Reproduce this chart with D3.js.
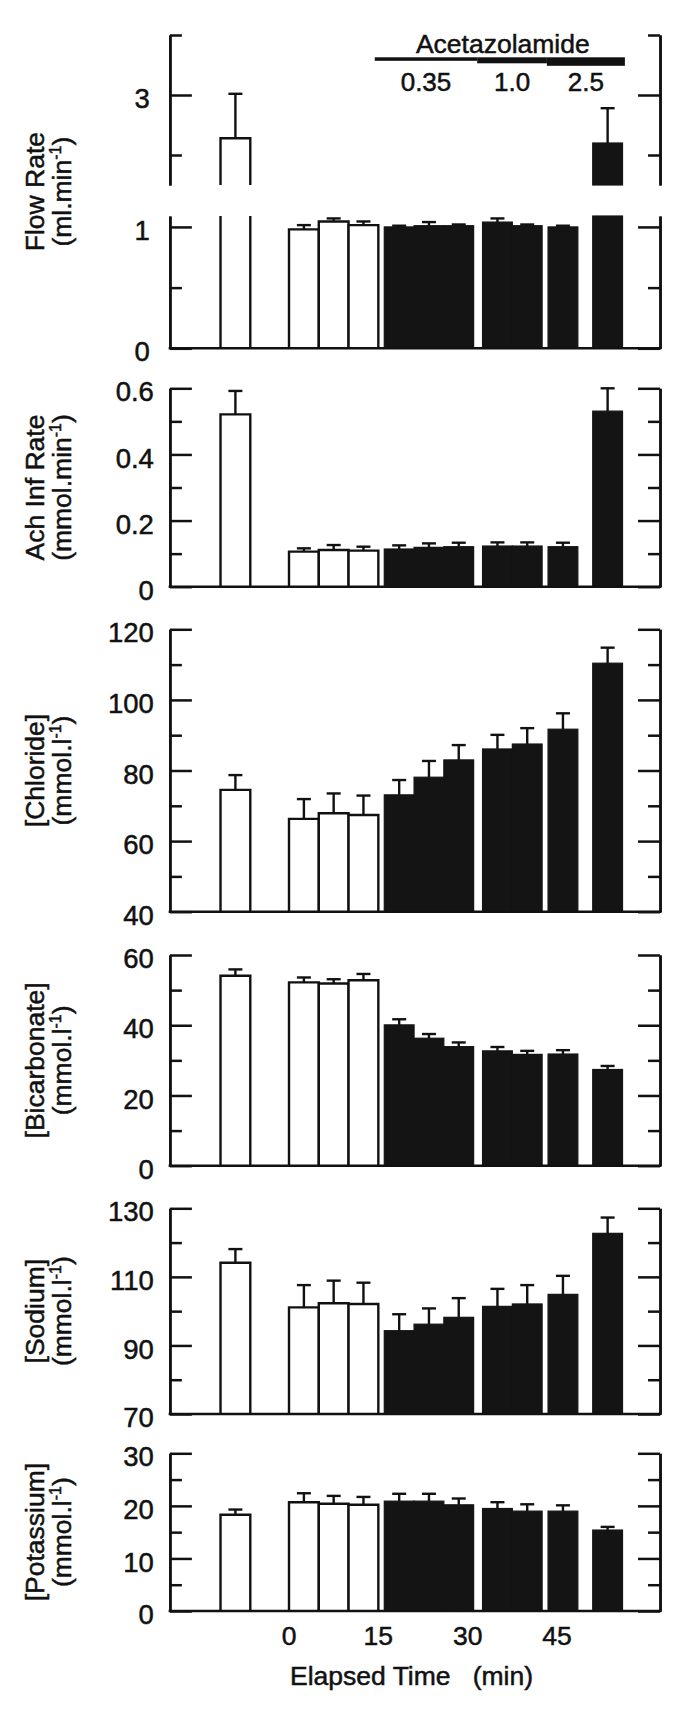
<!DOCTYPE html>
<html><head><meta charset="utf-8">
<script src="https://cdn.jsdelivr.net/npm/d3@7"></script>
<style>
html,body{margin:0;padding:0;background:#fff;}
svg{display:block;}
</style></head>
<body><div id="chart"></div>
<script>
// ---------------- DATA ----------------
// sample time (minutes, bar centre) of each collection period
const timeMin = [-9, 2.5, 7.5, 12.5, 18.5, 23.5, 28.5, 35, 40, 46, 53.5];
const period  = ["control","control","control","control","acz","acz","acz","acz","acz","acz","acz"];

const flowRate    = [2.64, 0.98, 1.045, 1.015, 1.0, 1.01, 1.01, 1.04, 1.01, 1.0, 2.6];
const flowRateErr = [0.37, 0.035, 0.025, 0.03, 0.01, 0.03, 0.01, 0.03, 0.01, 0.01, 0.29];

const achRate    = [0.521, 0.106, 0.111, 0.109, 0.114, 0.119, 0.121, 0.123, 0.123, 0.121, 0.531];
const achRateErr = [0.071, 0.010, 0.015, 0.012, 0.011, 0.012, 0.012, 0.011, 0.011, 0.012, 0.069];

const chloride    = [74.5, 66.3, 67.9, 67.4, 73.1, 78.1, 83.0, 86.1, 87.5, 91.7, 110.4];
const chlorideErr = [4.2, 5.6, 5.6, 5.5, 4.2, 4.6, 4.2, 4.0, 4.5, 4.5, 4.4];

const bicarbonate    = [54.1, 52.2, 51.9, 52.8, 40.1, 36.3, 33.9, 32.7, 31.7, 31.8, 27.4];
const bicarbonateErr = [1.8, 1.4, 1.2, 1.8, 1.6, 1.2, 1.2, 1.1, 1.0, 1.1, 1.0];

const sodium    = [114.1, 101.1, 102.3, 102.1, 94.3, 96.2, 98.2, 101.4, 102.1, 104.9, 122.7];
const sodiumErr = [4.0, 6.5, 6.6, 6.2, 4.8, 4.6, 5.6, 5.1, 5.5, 5.4, 4.6];

const potassium    = [18.3, 20.7, 20.4, 20.2, 20.9, 20.9, 20.2, 19.5, 19.0, 19.0, 15.4];
const potassiumErr = [1.0, 1.7, 1.5, 1.5, 1.4, 1.4, 1.2, 1.2, 1.3, 1.1, 0.6];

const xTickValues = [0, 15, 30, 45];
const doseLabels = ["0.35", "1.0", "2.5"];
const doseStart  = [14.4, 31.6, 43.3];
const doseEnd    = [31.6, 43.3, 56.4];

// ---------------- LAYOUT / STYLE ----------------
const W = 685, H = 1710;
const FONT = '"Liberation Sans", Arial, Helvetica, sans-serif';
const INK = "#111";
const BLACKBAR = "#141414";
const TXT_STROKE = 0.5;
const doseThick = [3.5, 6, 8.5];

const x = d3.scaleLinear().domain([0, 45]).range([289, 557]);
const xLo = -20, xHi = 62.3;
const left = x(xLo), right = x(xHi);
const half = 2.5; // half a 5-min collection period

const svg = d3.select("#chart").append("svg")
  .attr("width", W).attr("height", H)
  .attr("viewBox", `0 0 ${W} ${H}`);
svg.append("rect").attr("width", W).attr("height", H).attr("fill", "#fff");

function ink(sel) {
  return sel.attr("fill", INK).attr("stroke", INK).attr("stroke-width", TXT_STROKE);
}

const f1 = d3.format(".1f");
const panels = [
  { title: ["Flow Rate", ["(ml.min", "-1", ")"]], values: flowRate, errs: flowRateErr,
    segs: [{ domain: [0, 1.09], range: [348.3, 216] }, { domain: [2.25, 3.5], range: [185, 35] }],
    majors: [0, 1, 3], minors: [0.5, 2.5, 3.5], fmt: d => String(d), pad: 20 },
  { title: ["Ach Inf Rate", ["(mmol.min", "-1", ")"]], values: achRate, errs: achRateErr,
    segs: [{ domain: [0, 0.6], range: [586.7, 388.3] }],
    majors: [0, 0.2, 0.4, 0.6], minors: [0.1, 0.3, 0.5], fmt: d => d === 0 ? "0" : f1(d), pad: 16 },
  { title: ["[Chloride]", ["(mmol.l", "-1", ")"]], values: chloride, errs: chlorideErr,
    segs: [{ domain: [40, 120], range: [911.7, 629.3] }],
    majors: [40, 60, 80, 100, 120], minors: [50, 70, 90, 110], fmt: d => String(d), pad: 16 },
  { title: ["[Bicarbonate]", ["(mmol.l", "-1", ")"]], values: bicarbonate, errs: bicarbonateErr,
    segs: [{ domain: [0, 60], range: [1165.7, 955] }],
    majors: [0, 20, 40, 60], minors: [10, 30, 50], fmt: d => String(d), pad: 16 },
  { title: ["[Sodium]", ["(mmol.l", "-1", ")"]], values: sodium, errs: sodiumErr,
    segs: [{ domain: [70, 130], range: [1414, 1208.3] }],
    majors: [70, 90, 110, 130], minors: [80, 100, 120], fmt: d => String(d), pad: 16 },
  { title: ["[Potassium]", ["(mmol.l", "-1", ")"]], values: potassium, errs: potassiumErr,
    segs: [{ domain: [0, 30], range: [1611, 1453.3] }],
    majors: [0, 10, 20, 30], minors: [5, 15, 25], fmt: d => String(d), pad: 16 }
];

function styleAxis(g) {
  g.attr("font-family", FONT).attr("font-size", 27.5);
  g.selectAll("path.domain").attr("stroke", INK).attr("stroke-width", 2.5);
  g.selectAll(".tick line").attr("stroke", INK).attr("stroke-width", 2.5);
  ink(g.selectAll(".tick text")).attr("dy", "0.46em");
}

panels.forEach(p => {
  const g = svg.append("g");
  const scales = p.segs.map(s => ({ s, y: d3.scaleLinear().domain(s.domain).range(s.range) }));

  // bars
  p.values.forEach((v, i) => {
    const t = timeMin[i];
    const xl = x(t - half), xr = x(t + half);
    scales.forEach(({ s, y }) => {
      const lo = s.domain[0], hi = s.domain[1];
      if (v <= lo) return;
      const clipped = v > hi;
      const yt = y(Math.min(v, hi)), yb = y(lo);
      if (period[i] === "acz") {
        g.append("rect").attr("x", xl).attr("y", yt).attr("width", xr - xl).attr("height", yb - yt)
          .attr("fill", BLACKBAR).attr("stroke", BLACKBAR).attr("stroke-width", 1.2);
      } else {
        g.append("rect").attr("x", xl).attr("y", yt).attr("width", xr - xl).attr("height", yb - yt)
          .attr("fill", "#fff");
        const d = `M${xl},${yb}V${yt}` + (clipped ? `M${xr},${yt}` : `H${xr}`) + `V${yb}`;
        g.append("path").attr("d", d).attr("fill", "none").attr("stroke", INK).attr("stroke-width", 2.4);
      }
    });
    // error bar (upper only)
    const e = v + p.errs[i];
    const sc = scales.find(({ s }) => e >= s.domain[0] && e <= s.domain[1] + 1e-9);
    if (sc) {
      const cx = x(t);
      g.append("line").attr("x1", cx).attr("x2", cx).attr("y1", sc.y(v)).attr("y2", sc.y(e))
        .attr("stroke", INK).attr("stroke-width", 2.4);
      g.append("line").attr("x1", cx - 7).attr("x2", cx + 7).attr("y1", sc.y(e)).attr("y2", sc.y(e))
        .attr("stroke", INK).attr("stroke-width", 2.4);
    }
  });

  // axes (left and right, with inward ticks)
  scales.forEach(({ s, y }) => {
    const inSeg = arr => arr.filter(d => d >= s.domain[0] && d <= s.domain[1]);
    const la = g.append("g").attr("transform", `translate(${left},0)`)
      .call(d3.axisLeft(y).tickValues(inSeg(p.majors)).tickSizeInner(-22).tickSizeOuter(0)
        .tickPadding(p.pad).tickFormat(p.fmt));
    styleAxis(la);
    const lm = g.append("g").attr("transform", `translate(${left},0)`)
      .call(d3.axisLeft(y).tickValues(inSeg(p.minors)).tickSizeInner(-12).tickSizeOuter(0).tickFormat(""));
    styleAxis(lm);
    const ra = g.append("g").attr("transform", `translate(${right},0)`)
      .call(d3.axisRight(y).tickValues(inSeg(p.majors)).tickSizeInner(-22).tickSizeOuter(0).tickFormat(""));
    styleAxis(ra);
    const rm = g.append("g").attr("transform", `translate(${right},0)`)
      .call(d3.axisRight(y).tickValues(inSeg(p.minors)).tickSizeInner(-12).tickSizeOuter(0).tickFormat(""));
    styleAxis(rm);
  });

  // baseline
  const y0 = scales[0].y(p.segs[0].domain[0]);
  g.append("line").attr("x1", left - 1.25).attr("x2", right + 1.25).attr("y1", y0).attr("y2", y0)
    .attr("stroke", INK).attr("stroke-width", 2.5);

  // y title (two rotated lines)
  const allR = p.segs.flatMap(s => s.range);
  const mid = (d3.min(allR) + d3.max(allR)) / 2;
  ink(g.append("text").attr("transform", `translate(44,${mid}) rotate(-90)`)
    .attr("text-anchor", "middle").attr("font-family", FONT).attr("font-size", 26.5))
    .text(p.title[0]);
  const t2 = ink(g.append("text").attr("transform", `translate(71,${mid}) rotate(-90)`)
    .attr("text-anchor", "middle").attr("font-family", FONT).attr("font-size", 26.5));
  t2.append("tspan").text(p.title[1][0]);
  t2.append("tspan").attr("dy", -10).attr("font-size", 16).text(p.title[1][1]);
  t2.append("tspan").attr("dy", 10).text(p.title[1][2]);
});

// Acetazolamide dose bar
const hdr = svg.append("g");
ink(hdr.append("text").attr("x", x((doseStart[0] + doseEnd[doseEnd.length - 1]) / 2) + 3).attr("y", 53)
  .attr("text-anchor", "middle").attr("font-family", FONT).attr("font-size", 26.5))
  .text("Acetazolamide");
doseLabels.forEach((lab, i) => {
  hdr.append("rect").attr("x", x(doseStart[i])).attr("y", 57.3)
    .attr("width", x(doseEnd[i]) - x(doseStart[i])).attr("height", doseThick[i]).attr("fill", INK);
  ink(hdr.append("text").attr("x", x((doseStart[i] + doseEnd[i]) / 2)).attr("y", 90.5)
    .attr("text-anchor", "middle").attr("font-family", FONT).attr("font-size", 26))
    .text(lab);
});

// x tick labels & title
const xa = svg.append("g");
xTickValues.forEach(v => {
  ink(xa.append("text").attr("x", x(v)).attr("y", 1645).attr("text-anchor", "middle")
    .attr("font-family", FONT).attr("font-size", 26.5)).text(v);
});
ink(xa.append("text").attr("x", 290).attr("y", 1685).attr("text-anchor", "start")
  .attr("font-family", FONT).attr("font-size", 26.5))
  .text("Elapsed Time\u00a0\u00a0\u00a0(min)");
</script>
</body></html>
